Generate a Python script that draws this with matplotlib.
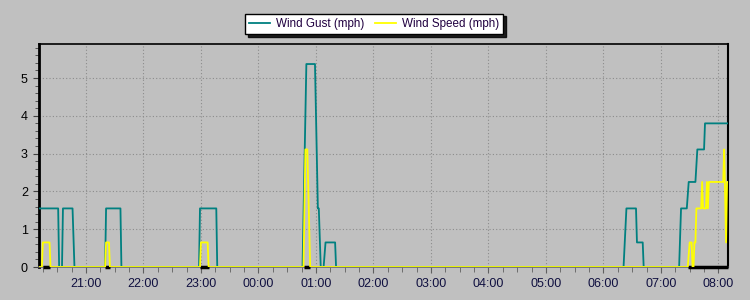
import numpy as np
import pandas as pd
import matplotlib
matplotlib.use('Agg')
import matplotlib.pyplot as plt
import matplotlib.dates as mdates
from matplotlib.ticker import MultipleLocator

plt.rcParams['font.family'] = ['Liberation Sans', 'DejaVu Sans']

# Dados (horário local, noite -> manhã seguinte)
gust_times = ['20:11', '20:31', '20:32', '20:35', '20:36', '20:46', '20:48',
              '21:20', '21:21', '21:36', '21:37',
              '22:58', '22:59', '23:16', '23:17',
              '00:46', '00:50', '00:59', '01:02', '01:03', '01:05',
              '01:08', '01:10', '01:20', '01:21',
              '06:21', '06:24', '06:34', '06:35', '06:41', '06:42',
              '07:19', '07:21', '07:27', '07:29', '07:36', '07:38',
              '07:45', '07:46', '08:10']
gust_mph = [1.55, 1.55, 0, 0, 1.55, 1.55, 0,
            0, 1.55, 1.55, 0,
            0, 1.55, 1.55, 0,
            0, 5.37, 5.37, 1.55, 1.55, 0,
            0, 0.65, 0.65, 0,
            0, 1.55, 1.55, 0.65, 0.65, 0,
            0, 1.55, 1.55, 2.25, 2.25, 3.11,
            3.11, 3.80, 3.80]

speed_times = ['20:11', '20:14', '20:15', '20:22', '20:23',
               '21:20', '21:21', '21:24', '21:25',
               '22:59', '23:00', '23:07', '23:08',
               '00:47', '00:49', '00:51', '00:54',
               '07:28', '07:30', '07:32', '07:33', '07:34', '07:35', '07:36',
               '07:37', '07:42', '07:43', '07:44', '07:47', '07:48', '07:49',
               '07:50', '08:05', '08:06', '08:08', '08:09', '08:10']
speed_mph = [0, 0, 0.65, 0.65, 0,
             0, 0.65, 0.65, 0,
             0, 0.65, 0.65, 0,
             0, 3.11, 3.11, 0,
             0, 0.65, 0.65, 0, 0, 0.65, 0.65,
             1.55, 1.55, 2.25, 1.55, 1.55, 2.25, 1.55,
             2.25, 2.25, 3.11, 0.65, 2.25, 2.25]

# trechos pretos sobre o zero
calm_start = ['20:15', '21:20', '22:59', '00:48', '07:28']
calm_end = ['20:23', '21:25', '23:08', '00:54', '08:10']

x_start, x_end = '20:11', '08:10'


def para_datetime(hhmm):
    h, m = map(int, hhmm.split(':'))
    dia = 1 if h >= 12 else 2
    return pd.Timestamp(2024, 1, dia, h, m)


def gerar_grafico():
    cinza = '#C0C0C0'
    fig = plt.figure(figsize=(7.5, 3), dpi=100, facecolor=cinza)
    ax = fig.add_axes([39 / 750, 1 - 267 / 300, (728 - 39) / 750, (267 - 44) / 300])
    ax.set_facecolor(cinza)

    gt = [para_datetime(t) for t in gust_times]
    st = [para_datetime(t) for t in speed_times]

    ax.plot(gt, gust_mph, color='#008080', linewidth=1.3, label='Wind Gust (mph)', zorder=3)
    ax.plot(st, speed_mph, color='#FFFF00', linewidth=1.3, label='Wind Speed (mph)', zorder=4)
    for a, b in zip(calm_start, calm_end):
        ax.plot([para_datetime(a), para_datetime(b)], [0, 0], color='black',
                linewidth=2.5, zorder=2.7, solid_capstyle='butt', clip_on=False)

    ax.set_xlim(para_datetime(x_start), para_datetime(x_end))
    ax.set_ylim(0, 5.9)

    ax.xaxis.set_major_locator(mdates.HourLocator())
    ax.xaxis.set_major_formatter(mdates.DateFormatter('%H:%M'))
    ax.xaxis.set_minor_locator(mdates.MinuteLocator(byminute=[15, 30, 45]))
    ax.yaxis.set_major_locator(MultipleLocator(1))
    ax.yaxis.set_minor_locator(MultipleLocator(0.2))

    ax.tick_params(axis='x', which='major', length=4, color='#606060',
                   labelsize=9, labelcolor='#101040', pad=4)
    ax.tick_params(axis='x', which='minor', length=3.5, color='#606060')
    ax.tick_params(axis='y', which='major', length=4, color='#404040',
                   labelsize=9, labelcolor='black', pad=4)
    ax.tick_params(axis='y', which='minor', length=3, color='#404040')

    ax.grid(True, which='major', color='#8C8C8C', linestyle=(0, (1, 2)), linewidth=0.8)

    ax.spines['left'].set_linewidth(2)
    ax.spines['left'].set_color('black')
    ax.spines['top'].set_linewidth(1.2)
    ax.spines['right'].set_linewidth(1.5)
    ax.spines['bottom'].set_color('#6A6A6A')
    ax.spines['bottom'].set_linewidth(1.2)

    leg = fig.legend(loc='upper center', bbox_to_anchor=(0.4987, 1 - 13.5 / 300), ncol=2,
                     fancybox=False, shadow={'color': 'black', 'alpha': 0.85},
                     frameon=True, fontsize=8.4, handlelength=1.8, handletextpad=0.45,
                     columnspacing=1.0, borderpad=0.38, borderaxespad=0)
    leg.get_frame().set_edgecolor('black')
    leg.get_frame().set_facecolor('white')
    leg.get_frame().set_linewidth(1.0)
    for txt in leg.get_texts():
        txt.set_color('#200040')

    plt.savefig('out.png', dpi=100, facecolor=cinza)


if __name__ == '__main__':
    gerar_grafico()
